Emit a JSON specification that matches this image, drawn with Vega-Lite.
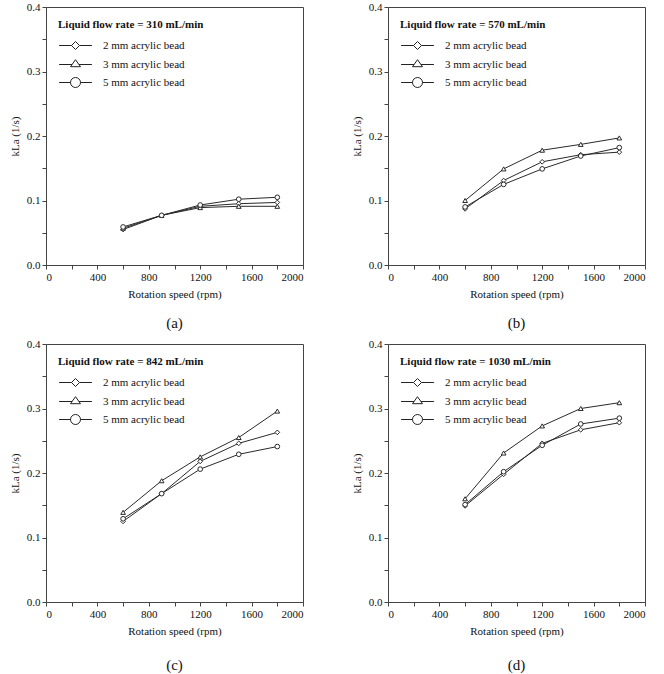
{
  "$schema": "https://vega.github.io/schema/vega-lite/v6.json",
  "background": "white",
  "padding": {"left": 8, "top": 0, "right": 5, "bottom": 0},
  "config": {
    "font": "Liberation Serif",
    "view": {"stroke": "#444", "strokeWidth": 1},
    "axis": {"grid": false, "domainColor": "#444", "tickColor": "#444", "tickSize": 4, "labelFont": "Liberation Serif", "labelFontSize": 11, "labelColor": "#111", "titleFont": "Liberation Serif", "titleFontSize": 11, "titleFontWeight": "normal", "titleColor": "#111", "labelPadding": 2},
    "axisX": {"titlePadding": 6},
    "axisY": {"titlePadding": 6},
    "legend": {"titleFont": "Liberation Serif", "titleFontSize": 11, "titleFontWeight": "bold", "titleColor": "#111", "labelFont": "Liberation Serif", "labelFontSize": 11, "labelColor": "#111", "padding": 0, "orient": "top-left", "offset": 12, "symbolSize": 64, "labelOffset": 34, "rowPadding": 5, "titlePadding": 10, "symbolStrokeColor": "#222", "symbolStrokeWidth": 1},
    "title": {"font": "Liberation Serif", "fontSize": 15, "fontWeight": "normal", "color": "#111", "orient": "bottom", "anchor": "middle", "offset": 17}
  },
  "datasets": {
    "kla": [
      {"panel": "a", "bead": "2 mm acrylic bead", "rpm": 600, "kla": 0.055},
      {"panel": "a", "bead": "2 mm acrylic bead", "rpm": 900, "kla": 0.077},
      {"panel": "a", "bead": "2 mm acrylic bead", "rpm": 1200, "kla": 0.091},
      {"panel": "a", "bead": "2 mm acrylic bead", "rpm": 1500, "kla": 0.095},
      {"panel": "a", "bead": "2 mm acrylic bead", "rpm": 1800, "kla": 0.097},
      {"panel": "a", "bead": "3 mm acrylic bead", "rpm": 600, "kla": 0.057},
      {"panel": "a", "bead": "3 mm acrylic bead", "rpm": 900, "kla": 0.077},
      {"panel": "a", "bead": "3 mm acrylic bead", "rpm": 1200, "kla": 0.089},
      {"panel": "a", "bead": "3 mm acrylic bead", "rpm": 1500, "kla": 0.091},
      {"panel": "a", "bead": "3 mm acrylic bead", "rpm": 1800, "kla": 0.091},
      {"panel": "a", "bead": "5 mm acrylic bead", "rpm": 600, "kla": 0.059},
      {"panel": "a", "bead": "5 mm acrylic bead", "rpm": 900, "kla": 0.077},
      {"panel": "a", "bead": "5 mm acrylic bead", "rpm": 1200, "kla": 0.093},
      {"panel": "a", "bead": "5 mm acrylic bead", "rpm": 1500, "kla": 0.102},
      {"panel": "a", "bead": "5 mm acrylic bead", "rpm": 1800, "kla": 0.105},
      {"panel": "b", "bead": "2 mm acrylic bead", "rpm": 600, "kla": 0.087},
      {"panel": "b", "bead": "2 mm acrylic bead", "rpm": 900, "kla": 0.131},
      {"panel": "b", "bead": "2 mm acrylic bead", "rpm": 1200, "kla": 0.160},
      {"panel": "b", "bead": "2 mm acrylic bead", "rpm": 1500, "kla": 0.171},
      {"panel": "b", "bead": "2 mm acrylic bead", "rpm": 1800, "kla": 0.175},
      {"panel": "b", "bead": "3 mm acrylic bead", "rpm": 600, "kla": 0.100},
      {"panel": "b", "bead": "3 mm acrylic bead", "rpm": 900, "kla": 0.149},
      {"panel": "b", "bead": "3 mm acrylic bead", "rpm": 1200, "kla": 0.178},
      {"panel": "b", "bead": "3 mm acrylic bead", "rpm": 1500, "kla": 0.187},
      {"panel": "b", "bead": "3 mm acrylic bead", "rpm": 1800, "kla": 0.197},
      {"panel": "b", "bead": "5 mm acrylic bead", "rpm": 600, "kla": 0.090},
      {"panel": "b", "bead": "5 mm acrylic bead", "rpm": 900, "kla": 0.125},
      {"panel": "b", "bead": "5 mm acrylic bead", "rpm": 1200, "kla": 0.149},
      {"panel": "b", "bead": "5 mm acrylic bead", "rpm": 1500, "kla": 0.169},
      {"panel": "b", "bead": "5 mm acrylic bead", "rpm": 1800, "kla": 0.182},
      {"panel": "c", "bead": "2 mm acrylic bead", "rpm": 600, "kla": 0.125},
      {"panel": "c", "bead": "2 mm acrylic bead", "rpm": 900, "kla": 0.168},
      {"panel": "c", "bead": "2 mm acrylic bead", "rpm": 1200, "kla": 0.218},
      {"panel": "c", "bead": "2 mm acrylic bead", "rpm": 1500, "kla": 0.246},
      {"panel": "c", "bead": "2 mm acrylic bead", "rpm": 1800, "kla": 0.263},
      {"panel": "c", "bead": "3 mm acrylic bead", "rpm": 600, "kla": 0.139},
      {"panel": "c", "bead": "3 mm acrylic bead", "rpm": 900, "kla": 0.188},
      {"panel": "c", "bead": "3 mm acrylic bead", "rpm": 1200, "kla": 0.225},
      {"panel": "c", "bead": "3 mm acrylic bead", "rpm": 1500, "kla": 0.255},
      {"panel": "c", "bead": "3 mm acrylic bead", "rpm": 1800, "kla": 0.296},
      {"panel": "c", "bead": "5 mm acrylic bead", "rpm": 600, "kla": 0.129},
      {"panel": "c", "bead": "5 mm acrylic bead", "rpm": 900, "kla": 0.168},
      {"panel": "c", "bead": "5 mm acrylic bead", "rpm": 1200, "kla": 0.206},
      {"panel": "c", "bead": "5 mm acrylic bead", "rpm": 1500, "kla": 0.229},
      {"panel": "c", "bead": "5 mm acrylic bead", "rpm": 1800, "kla": 0.241},
      {"panel": "d", "bead": "2 mm acrylic bead", "rpm": 600, "kla": 0.149},
      {"panel": "d", "bead": "2 mm acrylic bead", "rpm": 900, "kla": 0.198},
      {"panel": "d", "bead": "2 mm acrylic bead", "rpm": 1200, "kla": 0.246},
      {"panel": "d", "bead": "2 mm acrylic bead", "rpm": 1500, "kla": 0.267},
      {"panel": "d", "bead": "2 mm acrylic bead", "rpm": 1800, "kla": 0.278},
      {"panel": "d", "bead": "3 mm acrylic bead", "rpm": 600, "kla": 0.160},
      {"panel": "d", "bead": "3 mm acrylic bead", "rpm": 900, "kla": 0.231},
      {"panel": "d", "bead": "3 mm acrylic bead", "rpm": 1200, "kla": 0.273},
      {"panel": "d", "bead": "3 mm acrylic bead", "rpm": 1500, "kla": 0.300},
      {"panel": "d", "bead": "3 mm acrylic bead", "rpm": 1800, "kla": 0.309},
      {"panel": "d", "bead": "5 mm acrylic bead", "rpm": 600, "kla": 0.151},
      {"panel": "d", "bead": "5 mm acrylic bead", "rpm": 900, "kla": 0.202},
      {"panel": "d", "bead": "5 mm acrylic bead", "rpm": 1200, "kla": 0.243},
      {"panel": "d", "bead": "5 mm acrylic bead", "rpm": 1500, "kla": 0.276},
      {"panel": "d", "bead": "5 mm acrylic bead", "rpm": 1800, "kla": 0.285}
    ]
  },
  "columns": 2,
  "spacing": {"column": 46, "row": 5},
  "resolve": {"scale": {"shape": "independent"}, "legend": {"shape": "independent"}},
  "concat": [
    {
      "title": {"text": "(a)", "offset": 17},
      "width": 257, "height": 258,
      "data": {"name": "kla"},
      "transform": [{"filter": "datum.panel === 'a'"}],
      "encoding": {
        "x": {"field": "rpm", "type": "quantitative", "scale": {"domain": [0, 2000]}, "title": "Rotation speed (rpm)", "axis": {"values": [0,200,400,600,800,1000,1200,1400,1600,1800,2000], "labelExpr": "datum.value % 400 === 0 ? format(datum.value, 'd') : ''"}},
        "y": {"field": "kla", "type": "quantitative", "scale": {"domain": [0, 0.4]}, "title": "kLa (1/s)", "axis": {"values": [0,0.05,0.1,0.15,0.2,0.25,0.3,0.35,0.4], "labelExpr": "round(datum.value*100) % 10 === 0 ? format(datum.value, '.1f') : ''"}}
      },
      "resolve": {"scale": {"shape": "independent"}, "legend": {"shape": "independent"}},
      "layer": [
        {"mark": {"type": "line", "color": "#2a2a2a", "strokeWidth": 1}, "encoding": {"detail": {"field": "bead"}}},
        {"mark": {"type": "point", "filled": true, "fill": "white", "stroke": "#2a2a2a", "strokeWidth": 1, "size": 22, "opacity": 1},
         "encoding": {"shape": {"field": "bead", "type": "nominal", "scale": {"domain": ["2 mm acrylic bead","3 mm acrylic bead","5 mm acrylic bead"], "range": ["diamond","triangle-up","circle"]}, "legend": null}}},
        {"transform": [{"filter": "datum.rpm < 0"}],
         "mark": {"type": "point", "filled": false, "color": "#222", "strokeWidth": 1, "opacity": 1},
         "encoding": {"shape": {"field": "bead", "type": "nominal", "scale": {"domain": ["2 mm acrylic bead","3 mm acrylic bead","5 mm acrylic bead"], "range": ["M-1.1,0H2M4,0H7.1M2,0L3,-1L4,0L3,1Z", "M-1.1,0H2.14M3.86,0H7.1M3,-1.2L4.25,0.55H1.75Z", "M-1.1,0H1.75M4.25,0H7.1M1.75,0A1.25,1.25,0,1,1,4.25,0A1.25,1.25,0,1,1,1.75,0Z"]},
           "legend": {"title": "Liquid flow rate = 310 mL/min"}}}}
      ]
    },
    {
      "title": {"text": "(b)", "offset": 17},
      "width": 257, "height": 258,
      "data": {"name": "kla"},
      "transform": [{"filter": "datum.panel === 'b'"}],
      "encoding": {
        "x": {"field": "rpm", "type": "quantitative", "scale": {"domain": [0, 2000]}, "title": "Rotation speed (rpm)", "axis": {"values": [0,200,400,600,800,1000,1200,1400,1600,1800,2000], "labelExpr": "datum.value % 400 === 0 ? format(datum.value, 'd') : ''"}},
        "y": {"field": "kla", "type": "quantitative", "scale": {"domain": [0, 0.4]}, "title": "kLa (1/s)", "axis": {"values": [0,0.05,0.1,0.15,0.2,0.25,0.3,0.35,0.4], "labelExpr": "round(datum.value*100) % 10 === 0 ? format(datum.value, '.1f') : ''"}}
      },
      "resolve": {"scale": {"shape": "independent"}, "legend": {"shape": "independent"}},
      "layer": [
        {"mark": {"type": "line", "color": "#2a2a2a", "strokeWidth": 1}, "encoding": {"detail": {"field": "bead"}}},
        {"mark": {"type": "point", "filled": true, "fill": "white", "stroke": "#2a2a2a", "strokeWidth": 1, "size": 22, "opacity": 1},
         "encoding": {"shape": {"field": "bead", "type": "nominal", "scale": {"domain": ["2 mm acrylic bead","3 mm acrylic bead","5 mm acrylic bead"], "range": ["diamond","triangle-up","circle"]}, "legend": null}}},
        {"transform": [{"filter": "datum.rpm < 0"}],
         "mark": {"type": "point", "filled": false, "color": "#222", "strokeWidth": 1, "opacity": 1},
         "encoding": {"shape": {"field": "bead", "type": "nominal", "scale": {"domain": ["2 mm acrylic bead","3 mm acrylic bead","5 mm acrylic bead"], "range": ["M-1.1,0H2M4,0H7.1M2,0L3,-1L4,0L3,1Z", "M-1.1,0H2.14M3.86,0H7.1M3,-1.2L4.25,0.55H1.75Z", "M-1.1,0H1.75M4.25,0H7.1M1.75,0A1.25,1.25,0,1,1,4.25,0A1.25,1.25,0,1,1,1.75,0Z"]},
           "legend": {"title": "Liquid flow rate = 570 mL/min"}}}}
      ]
    },
    {
      "title": {"text": "(c)", "offset": 22},
      "width": 257, "height": 258,
      "data": {"name": "kla"},
      "transform": [{"filter": "datum.panel === 'c'"}],
      "encoding": {
        "x": {"field": "rpm", "type": "quantitative", "scale": {"domain": [0, 2000]}, "title": "Rotation speed (rpm)", "axis": {"values": [0,200,400,600,800,1000,1200,1400,1600,1800,2000], "labelExpr": "datum.value % 400 === 0 ? format(datum.value, 'd') : ''"}},
        "y": {"field": "kla", "type": "quantitative", "scale": {"domain": [0, 0.4]}, "title": "kLa (1/s)", "axis": {"values": [0,0.05,0.1,0.15,0.2,0.25,0.3,0.35,0.4], "labelExpr": "round(datum.value*100) % 10 === 0 ? format(datum.value, '.1f') : ''"}}
      },
      "resolve": {"scale": {"shape": "independent"}, "legend": {"shape": "independent"}},
      "layer": [
        {"mark": {"type": "line", "color": "#2a2a2a", "strokeWidth": 1}, "encoding": {"detail": {"field": "bead"}}},
        {"mark": {"type": "point", "filled": true, "fill": "white", "stroke": "#2a2a2a", "strokeWidth": 1, "size": 22, "opacity": 1},
         "encoding": {"shape": {"field": "bead", "type": "nominal", "scale": {"domain": ["2 mm acrylic bead","3 mm acrylic bead","5 mm acrylic bead"], "range": ["diamond","triangle-up","circle"]}, "legend": null}}},
        {"transform": [{"filter": "datum.rpm < 0"}],
         "mark": {"type": "point", "filled": false, "color": "#222", "strokeWidth": 1, "opacity": 1},
         "encoding": {"shape": {"field": "bead", "type": "nominal", "scale": {"domain": ["2 mm acrylic bead","3 mm acrylic bead","5 mm acrylic bead"], "range": ["M-1.1,0H2M4,0H7.1M2,0L3,-1L4,0L3,1Z", "M-1.1,0H2.14M3.86,0H7.1M3,-1.2L4.25,0.55H1.75Z", "M-1.1,0H1.75M4.25,0H7.1M1.75,0A1.25,1.25,0,1,1,4.25,0A1.25,1.25,0,1,1,1.75,0Z"]},
           "legend": {"title": "Liquid flow rate = 842 mL/min"}}}}
      ]
    },
    {
      "title": {"text": "(d)", "offset": 22},
      "width": 257, "height": 258,
      "data": {"name": "kla"},
      "transform": [{"filter": "datum.panel === 'd'"}],
      "encoding": {
        "x": {"field": "rpm", "type": "quantitative", "scale": {"domain": [0, 2000]}, "title": "Rotation speed (rpm)", "axis": {"values": [0,200,400,600,800,1000,1200,1400,1600,1800,2000], "labelExpr": "datum.value % 400 === 0 ? format(datum.value, 'd') : ''"}},
        "y": {"field": "kla", "type": "quantitative", "scale": {"domain": [0, 0.4]}, "title": "kLa (1/s)", "axis": {"values": [0,0.05,0.1,0.15,0.2,0.25,0.3,0.35,0.4], "labelExpr": "round(datum.value*100) % 10 === 0 ? format(datum.value, '.1f') : ''"}}
      },
      "resolve": {"scale": {"shape": "independent"}, "legend": {"shape": "independent"}},
      "layer": [
        {"mark": {"type": "line", "color": "#2a2a2a", "strokeWidth": 1}, "encoding": {"detail": {"field": "bead"}}},
        {"mark": {"type": "point", "filled": true, "fill": "white", "stroke": "#2a2a2a", "strokeWidth": 1, "size": 22, "opacity": 1},
         "encoding": {"shape": {"field": "bead", "type": "nominal", "scale": {"domain": ["2 mm acrylic bead","3 mm acrylic bead","5 mm acrylic bead"], "range": ["diamond","triangle-up","circle"]}, "legend": null}}},
        {"transform": [{"filter": "datum.rpm < 0"}],
         "mark": {"type": "point", "filled": false, "color": "#222", "strokeWidth": 1, "opacity": 1},
         "encoding": {"shape": {"field": "bead", "type": "nominal", "scale": {"domain": ["2 mm acrylic bead","3 mm acrylic bead","5 mm acrylic bead"], "range": ["M-1.1,0H2M4,0H7.1M2,0L3,-1L4,0L3,1Z", "M-1.1,0H2.14M3.86,0H7.1M3,-1.2L4.25,0.55H1.75Z", "M-1.1,0H1.75M4.25,0H7.1M1.75,0A1.25,1.25,0,1,1,4.25,0A1.25,1.25,0,1,1,1.75,0Z"]},
           "legend": {"title": "Liquid flow rate = 1030 mL/min"}}}}
      ]
    }
  ]
}
